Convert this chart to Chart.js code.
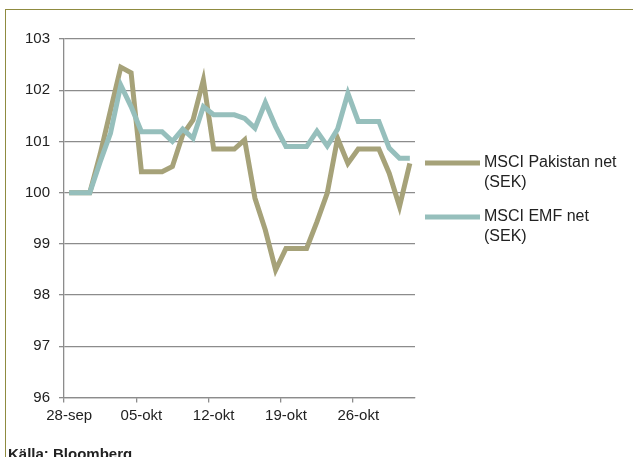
<!DOCTYPE html>
<html>
<head>
<meta charset="utf-8">
<script src="https://cdn.jsdelivr.net/npm/chart.js@4/dist/chart.umd.min.js"></script>
<style>
  body { margin: 0; background: #fff; }
  #wrap { position: relative; width: 633px; height: 457px; overflow: hidden; }
  #frame { position: absolute; left: 4.5px; top: 9px; width: 660px; height: 480px; border: 1.8px solid #8f8b40; }
  #chart { position: absolute; left: 0; top: 0; }
  #source { position: absolute; left: 8px; top: 446px; font: bold 15px/15px "Liberation Sans", Arial, sans-serif; color: #222; }
</style>
</head>
<body>
<div id="wrap">
  <div id="frame"></div>
  <canvas id="chart" width="633" height="457"></canvas>
  <div id="source">Källa: Bloomberg</div>
</div>
<script>
// ********************* data ***********************
const dates = [
  '28-sep', '29-sep', '30-sep',
  '01-okt', '02-okt', '03-okt', '04-okt', '05-okt', '06-okt', '07-okt',
  '08-okt', '09-okt', '10-okt', '11-okt', '12-okt', '13-okt', '14-okt',
  '15-okt', '16-okt', '17-okt', '18-okt', '19-okt', '20-okt', '21-okt',
  '22-okt', '23-okt', '24-okt', '25-okt', '26-okt', '27-okt', '28-okt',
  '29-okt', '30-okt', '31-okt'
];

const pakistan = [100, 100, 100, 100.75, 101.6, 102.45, 102.34, 100.41, 100.41, 100.41,
  100.51, 101.13, 101.42, 102.2, 100.85, 100.85, 100.85, 101.03, 99.89, 99.27,
  98.49, 98.91, 98.91, 98.91, 99.43, 99.99, 101.06, 100.57, 100.85, 100.85,
  100.85, 100.38, 99.73, 100.57];

const emf = [100, 100, 100, 100.6, 101.16, 102.1, 101.68, 101.19, 101.19, 101.19,
  101.0, 101.24, 101.06, 101.68, 101.52, 101.52, 101.52, 101.45, 101.26, 101.76,
  101.29, 100.9, 100.9, 100.9, 101.2, 100.91, 101.24, 101.94, 101.39, 101.39,
  101.39, 100.87, 100.67, 100.67];

const seriesNames = [['MSCI Pakistan net', '(SEK)'], ['MSCI EMF net', '(SEK)']];
const colors = ['#a6a279', '#96bfbc'];

const gridColor = '#8c8c8c';
const family = '"Liberation Sans", Arial, sans-serif';

// legend drawn to the right of the plot, two-line labels
const sideLegend = {
  id: 'sideLegend',
  afterDraw(chart) {
    const ctx = chart.ctx;
    const ys = [163, 217];
    ctx.save();
    chart.data.datasets.forEach((ds, i) => {
      ctx.strokeStyle = ds.borderColor;
      ctx.lineWidth = 5;
      ctx.beginPath();
      ctx.moveTo(425, ys[i]);
      ctx.lineTo(480, ys[i]);
      ctx.stroke();
      ctx.fillStyle = '#222';
      ctx.font = '16px ' + family;
      ctx.textBaseline = 'middle';
      ds.label.forEach((line, j) => ctx.fillText(line, 484, ys[i] + j * 20));
    });
    ctx.restore();
  }
};

const config = {
  type: 'line',
  data: {
    labels: dates,
    datasets: [{
      label: seriesNames[0],
      data: pakistan,
      borderColor: colors[0],
      backgroundColor: colors[0],
      borderWidth: 5,
      pointRadius: 0,
      order: 1
    }, {
      label: seriesNames[1],
      data: emf,
      borderColor: colors[1],
      backgroundColor: colors[1],
      borderWidth: 5,
      pointRadius: 0,
      order: 0
    }]
  },
  options: {
    responsive: false,
    animation: false,
    layout: { padding: { top: 39, right: 218, left: 0, bottom: 0 } },
    plugins: { legend: { display: false }, tooltip: { enabled: false } },
    scales: {
      x: {
        offset: true,
        grid: {
          offset: true,
          drawOnChartArea: false,
          tickLength: 5,
          lineWidth: 1.3,
          color: (c) => (c.type === 'tick' && c.index % 7 === 0) ? gridColor : 'rgba(0,0,0,0)'
        },
        border: { color: gridColor, width: 1.3 },
        ticks: {
          autoSkip: false,
          maxRotation: 0,
          padding: 4,
          color: '#222',
          font: { family: family, size: 15 },
          callback: (v, i) => i % 7 === 0 ? dates[i] : ''
        },
        afterFit: (s) => { s.height = 59.5; }
      },
      y: {
        min: 96,
        max: 103,
        ticks: { stepSize: 1, padding: 9, color: '#222', font: { family: family, size: 15 } },
        grid: { color: gridColor, lineWidth: 1.3, tickLength: 5 },
        border: { color: gridColor, width: 1.3 },
        afterFit: (s) => { s.width = 64; }
      }
    }
  },
  plugins: [sideLegend]
};

const chart = new Chart(document.getElementById('chart'), config);
</script>
</body>
</html>
